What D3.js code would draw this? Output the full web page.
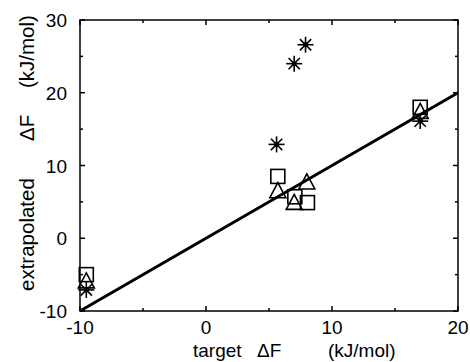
<!DOCTYPE html>
<html><head><meta charset="utf-8">
<script src="https://cdn.jsdelivr.net/npm/d3@7"></script>
<style>body{margin:0;background:#fff}text{font-family:"Liberation Sans",Arial,sans-serif;white-space:pre}</style>
</head><body>
<svg id="c" width="470" height="362"></svg>
<script>
const xTicks = [-10, 0, 10, 20];
const yTicks = [-10, 0, 10, 20, 30];
const starPts = [[-9.5,-7.1],[5.6,12.9],[7.0,24.0],[7.9,26.6],[17,16.1]];
const squarePts = [[-9.5,-5.0],[5.7,8.5],[7.05,5.7],[8.05,4.9],[17,18.0]];
const trianglePts = [[-9.5,-6.0],[5.7,6.4],[7.0,4.8],[8.0,7.6],[17,17.3]];
const linePts = [[-10,-10],[20,20]];
const xTitle = ["target", "\u0394F", "(kJ/mol)"];
const yTitle = ["extrapolated", "\u0394F", "(kJ/mol)"];

const svg = d3.select("#c");
const L=80,R=458,T=20,B=311;
const x = d3.scaleLinear().domain([-10,20]).range([L,R]);
const y = d3.scaleLinear().domain([-10,30]).range([B,T]);
const FS = 19;

const g = svg.append("g");
g.append("rect").attr("x",L).attr("y",T).attr("width",R-L).attr("height",B-T)
  .attr("fill","none").attr("stroke","#000").attr("stroke-width",1.5);

const minorX = d3.range(-10,20.1,5), minorY = d3.range(-10,30.1,5);
minorX.forEach(v=>{
  const len = v%10===0?5:3;
  g.append("line").attr("x1",x(v)).attr("x2",x(v)).attr("y1",B).attr("y2",B-len).attr("stroke","#000").attr("stroke-width",1.5);
  g.append("line").attr("x1",x(v)).attr("x2",x(v)).attr("y1",T).attr("y2",T+len).attr("stroke","#000").attr("stroke-width",1.5);
});
minorY.forEach(v=>{
  const len = v%10===0?5:3;
  g.append("line").attr("y1",y(v)).attr("y2",y(v)).attr("x1",L).attr("x2",L+len).attr("stroke","#000").attr("stroke-width",1.5);
  g.append("line").attr("y1",y(v)).attr("y2",y(v)).attr("x1",R).attr("x2",R-len).attr("stroke","#000").attr("stroke-width",1.5);
});
xTicks.forEach(v=>{
  g.append("text").attr("x",x(v)).attr("y",334).attr("text-anchor","middle").attr("font-size",FS).text(v);
});
yTicks.forEach(v=>{
  g.append("text").attr("x",67).attr("y",y(v)+7).attr("text-anchor","end").attr("font-size",FS).text(v);
});
const xPos = [193, 257, 328];
xTitle.forEach((t,i)=>{
  g.append("text").attr("x",xPos[i]).attr("y",357).attr("font-size",FS).text(t);
});
const yPos = [291, 141, 88];
yTitle.forEach((t,i)=>{
  g.append("text").attr("transform",`translate(34,${yPos[i]}) rotate(-90)`).attr("font-size",20.5).text(t);
});

g.append("path").attr("d",d3.line().x(d=>x(d[0])).y(d=>y(d[1]))(linePts))
  .attr("stroke","#000").attr("stroke-width",3).attr("fill","none");

g.selectAll(".sq").data(squarePts).enter().append("rect")
  .attr("x",d=>x(d[0])-7).attr("y",d=>y(d[1])-7).attr("width",14).attr("height",14)
  .attr("fill","none").attr("stroke","#000").attr("stroke-width",1.6);
g.selectAll(".tr").data(trianglePts).enter().append("path")
  .attr("d",d=>{const cx=x(d[0]),cy=y(d[1]);return `M${cx},${cy-9}L${cx+8},${cy+6}L${cx-8},${cy+6}Z`;})
  .attr("fill","none").attr("stroke","#000").attr("stroke-width",1.6);
starPts.forEach(d=>{
  const cx=x(d[0]),cy=y(d[1]),r=8;
  for(let k=0;k<4;k++){
    const a=k*Math.PI/4;
    g.append("line").attr("x1",cx-r*Math.cos(a)).attr("y1",cy-r*Math.sin(a))
      .attr("x2",cx+r*Math.cos(a)).attr("y2",cy+r*Math.sin(a)).attr("stroke","#000").attr("stroke-width",1.6);
  }
  g.append("circle").attr("cx",cx).attr("cy",cy).attr("r",2.5).attr("fill","#000");
});
</script>
</body></html>
